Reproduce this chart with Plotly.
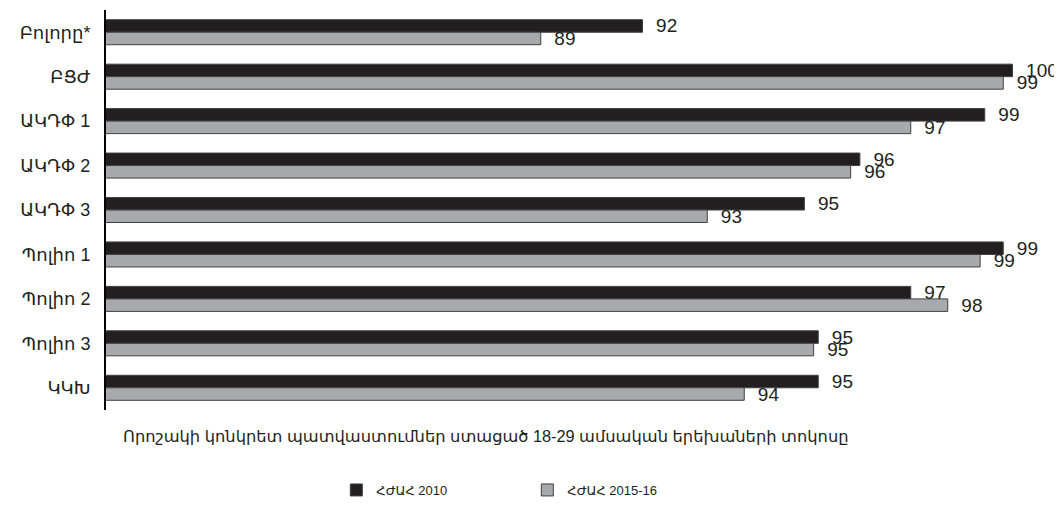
import plotly.graph_objects as go

FONT = "Arial, Liberation Sans, DejaVu Sans, sans-serif"
DARK = "#231f20"
GREY = "#a7a9ac"
EDGE = "#404040"

categories = ["Բոլորը*", "ԲՑԺ", "ԱԿԴՓ 1", "ԱԿԴՓ 2", "ԱԿԴՓ 3",
              "Պոլիո 1", "Պոլիո 2", "Պոլիո 3", "ԿԿԽ"]
dhs_2010 = [91.6, 99.6, 99.0, 96.3, 95.1, 99.4, 97.4, 95.4, 95.4]
dhs_2015 = [89.4, 99.4, 97.4, 96.1, 93.0, 98.9, 98.2, 95.3, 93.8]
series_names = ["ՀԺԱՀ 2010", "ՀԺԱՀ 2015-16"]
x_title = "Որոշակի կոնկրետ պատվաստումներ ստացած 18-29 ամսական երեխաների տոկոսը"

fig = go.Figure()
for name, vals, col in [(series_names[0], dhs_2010, DARK),
                        (series_names[1], dhs_2015, GREY)]:
    fig.add_trace(go.Bar(
        y=categories, x=vals, name=name, orientation="h",
        marker=dict(color=col, line=dict(color=EDGE, width=1)),
        texttemplate="\u00a0\u00a0%{x:.0f}",
        textposition="outside",
        constraintext="none",
        cliponaxis=False,
        textfont=dict(family=FONT, size=19, color="#231f20"),
    ))

# page body keeps an 8px margin, so the figure is 8px smaller than the window
fig.update_layout(
    width=1054, height=498,
    paper_bgcolor="white", plot_bgcolor="white",
    font=dict(family=FONT, color="#231f20", size=16),
    margin=dict(l=98, r=31, t=2, b=96, autoexpand=False),
    barmode="group", bargap=0.437, bargroupgap=0,
    showlegend=True,
    legend=dict(
        orientation="h", x=0.249, xanchor="left", y=-0.2, yanchor="middle",
        font=dict(size=13), itemwidth=30,
        entrywidth=146, entrywidthmode="pixels",
        bgcolor="rgba(0,0,0,0)",
    ),
    xaxis=dict(range=[80, 100], visible=False),
    yaxis=dict(
        autorange="reversed", showline=True, linecolor="black", linewidth=2,
        ticks="", showgrid=False, ticklabelstandoff=10, automargin=False,
        tickfont=dict(size=18),
    ),
    annotations=[dict(
        text=x_title, xref="paper", yref="paper", x=0.411, y=-0.065,
        xanchor="center", yanchor="middle", showarrow=False,
        font=dict(size=16.3),
    )],
)

fig.write_html("out.html")
